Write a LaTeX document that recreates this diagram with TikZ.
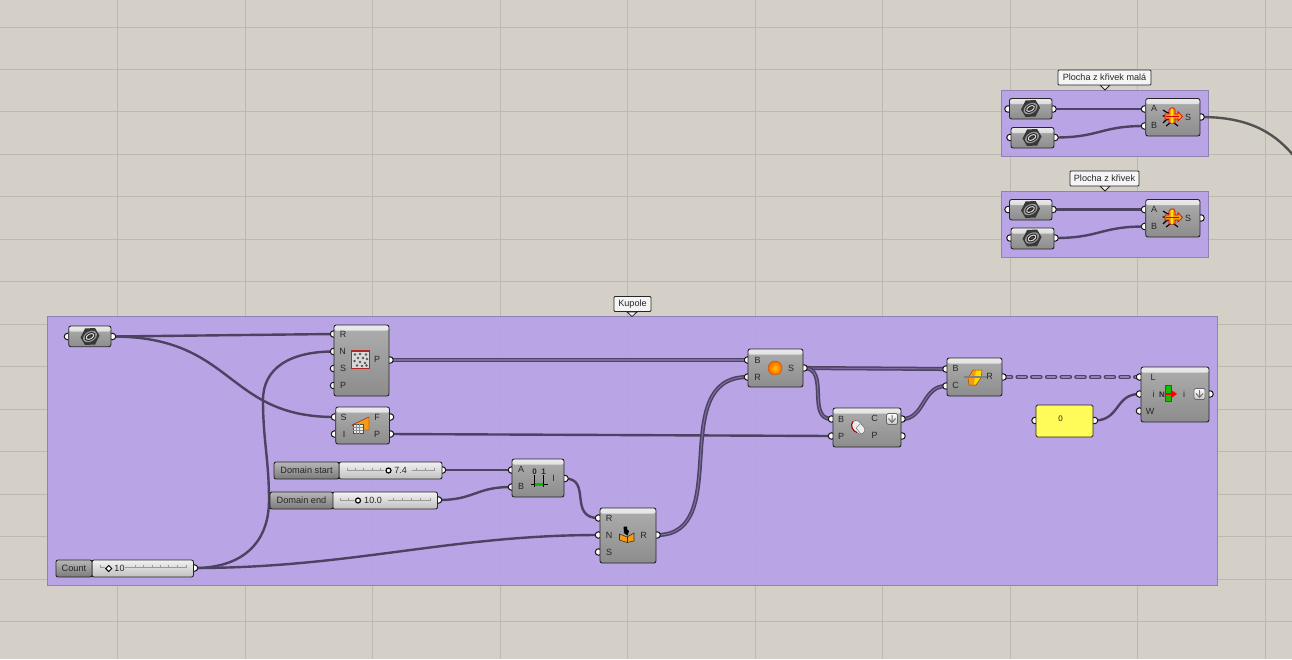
\documentclass[tikz,border=0pt]{standalone}
\usepackage{fontspec}
\setmainfont{Liberation Sans}
\usetikzlibrary{shapes.geometric}
\definecolor{canvas}{HTML}{D4D0C8}
\definecolor{gridc}{HTML}{BDB9B1}
\definecolor{groupc}{HTML}{B7A1E8}
\definecolor{groupe}{HTML}{8F81B5}
\definecolor{wirec}{HTML}{4C4262}
\definecolor{orng}{HTML}{F59A12}
\definecolor{panely}{HTML}{FFFB58}
\pgfdeclarelayer{groups}\pgfdeclarelayer{wires}
\pgfsetlayers{groups,wires,main}
\tikzset{
 x=1pt,y=-1pt,
 groupbox/.style={draw=groupe,line width=.7pt,fill=groupc,fill opacity=.93,inner sep=0,outer sep=0},
 compbox/.style={draw=black!85,line width=.9pt,rounded corners=2.2pt,inner sep=0,outer sep=0,
   top color=black!32,bottom color=black!45,
   path picture={\shade[top color=white!92!black,bottom color=black!32]
    (path picture bounding box.north west) rectangle ([yshift=-5.5pt]path picture bounding box.north east);}},
 sliderlabel/.style={draw=black!85,line width=.9pt,rounded corners=2pt,inner sep=0,outer sep=0,top color=black!28,bottom color=black!52,font=\fontsize{9.2}{10}\selectfont,text=black!85},
 sliderbody/.style={draw=black!85,line width=.9pt,rounded corners=2pt,inner sep=0,outer sep=0,top color=white!95!black,bottom color=black!25},
 port/.style={circle,draw=black!90,fill=white,line width=1pt,inner sep=0,minimum size=6.5pt},
 lbl/.style={inner sep=0,font=\fontsize{9}{10}\selectfont,text=black!85},
 wire/.style={draw=wirec,line width=2.4pt,line cap=round},
 wirebig/.style={draw=wirec,line width=1.5pt,double=groupc!45!wirec,double distance=1.1pt},
 wiredash/.style={draw=wirec,line width=1.5pt,double=groupc!65!wirec,double distance=1.6pt,dash pattern=on 8pt off 6.7pt,line cap=round},
 wireout/.style={draw=black!68,line width=2.4pt},
 tagbox/.style={draw=black!85,fill=white!96!black,line width=.8pt,rounded corners=1pt,inner sep=0,outer sep=0,font=\fontsize{9.1}{10}\selectfont,text=black!85},
 gripc/.style={circle,draw=black,fill=white,line width=1.2pt,inner sep=0,minimum size=5pt},
 gripd/.style={diamond,draw=black,fill=white,line width=.9pt,inner sep=0,minimum size=6.5pt},
 railc/.style={draw=black!40,line width=.5pt},
 buttonc/.style={draw=black!60,line width=.7pt,rounded corners=1.5pt,top color=white,bottom color=black!22,inner sep=0,minimum size=11pt},
 panelbox/.style={draw=black!85,line width=.9pt,rounded corners=1.5pt,fill=panely,inner sep=0,outer sep=0},
}
\newcommand\comp[5]{\pgfmathsetmacro\cw{#4-#2}\pgfmathsetmacro\ch{#5-#3}%
 \node[compbox,minimum width=\cw pt,minimum height=\ch pt] (#1) at ({(#2+#4)/2},{(#3+#5)/2}) {};}
\newcommand\prt[3]{\node[port] (#1) at (#2,#3) {};}
\newcommand\lab[4]{\node[lbl] (#1) at (#2,#3) {#4};}
\newcommand\nut[2]{\begin{scope}[shift={(#1,#2)}]
 \fill[black!78] (-9.5,1) -- (-5,-8) -- (5,-8.5) -- (9.5,-1) -- (5,8) -- (-5,8.5) -- cycle;
 \fill[black!40,rotate=30] (0,0) ellipse (7.5 and 5);
 \fill[black!85,rotate=30] (0,0) ellipse (6 and 3.8);
 \draw[white!85!black,line width=1pt,rotate=30] (0,0) ellipse (4.2 and 2.4);
 \fill[black!70,rotate=30] (0,0) ellipse (1.8 and 1);
 \end{scope}}
\newcommand\bug[2]{\begin{scope}[shift={(#1,#2)}]
 \draw[black,line width=1.1pt] (-9,-7) -- (-6,-5) -- (-3,-4) (-9.5,-1) -- (-3,-1) (-9,6) -- (-6,3) -- (-3,2) (-6,9) -- (-2,6) -- (-1,6) (6,9) -- (2,6) -- (1,6);
 \fill[orng,draw=red!85!black,line width=.6pt] (-7,-3) -- (-3,-3) -- (-3,-7) -- (-1,-9) -- (2,-9) -- (3,-7) -- (3,-3) -- (6,-3) -- (6,-5.5) -- (10.5,-.5) -- (6,4) -- (6,2) -- (3,2) -- (3,6) -- (-3,6) -- (-3,2) -- (-7,2) -- cycle;
 \fill[yellow!85!orange] (-1,-8.5) rectangle (1,5.5);
 \draw[red!85!black,line width=.5pt] (-6.5,-.5) -- (7,-.5);
 \end{scope}}
\begin{document}
\begin{tikzpicture}
\useasboundingbox (0,0) rectangle (1292,659);
\begin{pgfonlayer}{groups}
\fill[canvas] (0,0) rectangle (1292,659);
\foreach \gx in {117.5,245,372.5,500,627.5,755,882.5,1010,1137.5,1265} {\draw[gridc,line width=.8pt] (\gx,0) -- (\gx,659);}
\foreach \gy in {27,69,111.5,154,196.5,239,281.5,324,366.5,409,451.5,494,536.5,579,621.5} {\draw[gridc,line width=.8pt] (0,\gy) -- (1292,\gy);}
\node[groupbox,minimum width=1169.5pt,minimum height=269pt] (gKupole) at (632.25,450.5) {};
\node[groupbox,minimum width=207.2pt,minimum height=66.7pt] (gMala) at (1105.1,123.35) {};
\node[groupbox,minimum width=207.2pt,minimum height=66.5pt] (gKrivek) at (1105.1,224.25) {};
\end{pgfonlayer}

% group tags
\fill[white!96!black,draw=black!85,line width=.8pt] (627,312) -- (632,316.5) -- (637,312) -- cycle;
\node[tagbox,minimum width=37pt,minimum height=15pt] (tKupole) at (632.5,304) {Kupole};
\fill[white!96!black,draw=black!85,line width=.8pt] (1100,85) -- (1105,90) -- (1110,85) -- cycle;
\node[tagbox,minimum width=93pt,minimum height=15pt] (tMala) at (1104.5,77.5) {Plocha z křivek malá};
\fill[white!96!black,draw=black!85,line width=.8pt] (1100,186) -- (1105,191) -- (1110,186) -- cycle;
\node[tagbox,minimum width=69pt,minimum height=15pt] (tKrivek) at (1104.5,178.5) {Plocha z křivek};

% Kupole: curve param
\prt{cA}{67.5}{336.5}\prt{cB}{112.5}{336.5}
\comp{cC}{68.7}{326}{111}{346.7}\nut{90}{336.5}

% populate
\prt{popR}{333.5}{334}\prt{popN}{333.5}{351.5}\prt{popS}{333.5}{368.5}\prt{popP}{333.5}{385.5}\prt{popO}{390}{360}
\comp{pop}{334}{325}{389}{396}
\lab{lpR}{343}{334}{R}\lab{lpN}{342.5}{351.5}{N}\lab{lpS}{343}{368.5}{S}\lab{lpP}{343}{385.5}{P}\lab{lpO}{377}{359.5}{P}
\fill[white!85!black] (351.5,351) rectangle (369.5,368.5);
\draw[red!65!black!85,line width=1.2pt] (351.5,351) rectangle (369.5,368.5);
\foreach \dx/\dy in {355/354.5,360/354,366/354.5,358/358,363/358,367/359,354.5/361,360/362,365/363,357/365.5,362/366,366.5/365.5} {\fill[black!65] (\dx,\dy) circle (1.3);}

% surface
\prt{srS}{334.5}{417}\prt{srI}{334.5}{434}\prt{srF}{390.5}{417}\prt{srP}{390.5}{434}
\comp{sr}{335.7}{407}{389.5}{444}
\lab{lsS}{343.5}{417}{S}\lab{lsI}{344}{434}{I}\lab{lsF}{377}{417}{F}\lab{lsP}{377}{434}{P}
\fill[orng,draw=red!70!black,line width=.4pt] (352,425) -- (369,417) -- (369,430) -- (358,430) -- cycle;
\fill[white!92!black,draw=black!70,line width=.5pt] (353,424) rectangle (363,433.5);
\draw[black!45,line width=.3pt] (353,427) -- (363,427) (353,430) -- (363,430) (356.3,424) -- (356.3,433.5) (359.6,424) -- (359.6,433.5);

% sliders
\prt{dsO}{442.5}{470}
\node[sliderbody,minimum width=103pt,minimum height=17pt] (dsB) at (390.5,470.5) {};
\node[sliderlabel,minimum width=65pt,minimum height=17pt] (dsL) at (306.5,470.5) {Domain start};
\draw[railc] (347,470) -- (384,470) (412,470) -- (434,470);
\foreach \tx in {347,355,363,372,380,416,425,434} {\draw[railc] (\tx,467.5) -- (\tx,470.5);}
\node[gripc] (dsG) at (388.5,470.5) {};
\node[lbl] (dsV) at (400.5,470) {7.4};

\prt{deO}{438.5}{500}
\node[sliderbody,minimum width=105pt,minimum height=17pt] (deB) at (385,500.5) {};
\node[sliderlabel,minimum width=63pt,minimum height=17pt] (deL) at (301.5,500.5) {Domain end};
\draw[railc] (340,500) -- (354,500) (388,500) -- (430,500);
\foreach \tx in {340,348,393,402,411,420,430} {\draw[railc] (\tx,497.5) -- (\tx,500.5);}
\node[gripc] (deG) at (358,500.5) {};
\node[lbl] (deV) at (373,500) {10.0};

\prt{coO}{194.5}{568}
\node[sliderbody,minimum width=101.5pt,minimum height=17pt] (coB) at (142.7,568.5) {};
\node[sliderlabel,minimum width=36pt,minimum height=17pt] (coL) at (74,568.5) {Count};
\draw[railc] (100,567.5) -- (105,567.5) (125,567.5) -- (186,567.5);
\foreach \tx in {100,135,143,152,160,168,177,186} {\draw[railc] (\tx,565) -- (\tx,568);}
\node[gripd] (coG) at (108.7,568.5) {};
\node[lbl] (coV) at (119.5,568) {10};

% construct domain
\prt{cdA}{511.5}{470}\prt{cdB}{511.5}{487}\prt{cdI}{565}{478.5}
\comp{cd}{512}{459}{564}{497}
\lab{lcA}{521}{469.5}{A}\lab{lcB}{521}{486.5}{B}\lab{lcI}{553.5}{478.5}{I}
\node[lbl,font=\fontsize{8}{8}\selectfont\bfseries] (cd0) at (534.5,471.5) {0};
\node[lbl,font=\fontsize{8}{8}\selectfont\bfseries] (cd1) at (543.5,471.5) {1};
\draw[black,line width=.7pt] (531,484.5) -- (548,484.5) (534.5,475) -- (534.5,487) (543.5,475) -- (543.5,487);
\draw[green!75!black,line width=2.2pt] (535,484.5) -- (543,484.5);

% series
\prt{seR}{598.5}{518}\prt{seN}{598.5}{535}\prt{seS}{598.5}{552}\prt{seO}{657}{535}
\comp{se}{600}{508}{656}{563}
\lab{lrR}{609}{518}{R}\lab{lrN}{609}{535}{N}\lab{lrS}{609}{552}{S}\lab{lrO}{643.5}{535}{R}
\fill[orng,draw=black!80,line width=.6pt] (619.5,534) -- (627,537) -- (634,533) -- (634,541) -- (627,542.5) -- (619.5,540) -- cycle;
\draw[black!80,line width=.5pt] (627,537) -- (627,542.5);
\fill[black] (623.5,526.5) -- (627,526.5) -- (627,529) -- (629,531) -- (627.5,535.5) -- (624,533) -- cycle;

% sphere
\prt{spB}{747.5}{360}\prt{spR}{747.5}{377}\prt{spO}{804}{368}
\comp{sp}{748}{349}{803}{387}
\lab{lbB}{757.5}{360}{B}\lab{lbR}{757.5}{377}{R}\lab{lbS}{791}{368}{S}
\shade[inner color=yellow!55!orange,outer color=orange!75!red,draw=orange!70!black,line width=.4pt] (775,368) circle (7);

% split
\prt{stB}{831.5}{419}\prt{stP}{831.5}{436}\prt{stC}{902}{419}\prt{stQ}{902}{436}
\comp{st}{833}{408}{901}{447}
\lab{ltB}{841}{419}{B}\lab{ltP}{841}{436}{P}\lab{ltC}{874.5}{418.5}{C}\lab{ltQ}{874.5}{435.5}{P}
\fill[white!93!black,draw=black!55,line width=.6pt,rounded corners=2pt] (851,423) -- (857,419.5) -- (863,426) -- (866,430) -- (861,435) -- (853,430) -- cycle;
\draw[red!65!black,line width=1pt] (853,421.5) .. controls (850,425) and (852,431) .. (857,432.5);
\draw[black!50,line width=.6pt] (856,428) -- (860,424) (856,428) -- (861,434);
\node[buttonc] (stBtn) at (892,419) {};
\draw[black!55,line width=1pt] (892,415) -- (892,422) (888.5,418.5) -- (892,422.5) -- (895.5,418.5);

% trim
\prt{trB}{946}{369}\prt{trC}{946}{386}\prt{trO}{1003}{377}
\comp{tr}{947}{358}{1002}{396}
\lab{lmB}{955.5}{368.5}{B}\lab{lmC}{955.5}{385.5}{C}\lab{lmO}{989.5}{376.5}{R}
\fill[orng,draw=orange!60!black,line width=.5pt] (968,378) -- (973,370) -- (982,370) -- (981,378) -- (976,385) -- (969,385) -- cycle;
\fill[yellow!80!orange] (976,370.5) -- (981.5,370.5) -- (980.5,377.5) -- (975.5,384.5) -- (974,384) -- (975,377) -- cycle;
\draw[black!50,line width=1.2pt] (964,377) -- (987,377);

% panel
\prt{paI}{1035}{420.5}\prt{paO}{1094.5}{420.5}
\node[panelbox,minimum width=57pt,minimum height=32pt] (pa) at (1064.5,421) {};
\node[lbl,font=\fontsize{8}{9}\selectfont] (paV) at (1060.5,419) {0};

% insert items
\prt{inL}{1139.5}{377}\prt{inI}{1139.5}{394}\prt{inW}{1139.5}{411}\prt{inO}{1210}{394}
\comp{in0}{1141}{367}{1209}{422}
\lab{liL}{1153}{377}{L}\lab{liI}{1153.5}{394}{i}\lab{liW}{1150}{411}{W}\lab{liO}{1184}{394}{i}
\node[lbl,font=\fontsize{8}{9}\selectfont\bfseries] (liN) at (1162,394.5) {N};
\fill[green!70!black!90!yellow,draw=black!50!green,line width=.5pt] (1165.5,385.5) rectangle (1171,401.5);
\draw[red,line width=1.8pt] (1166,394) -- (1173,394);
\fill[red] (1172,390.5) -- (1177,394) -- (1172,397.5) -- cycle;
\node[buttonc] (inBtn) at (1199.5,394) {};
\draw[black!55,line width=1pt] (1199.5,390) -- (1199.5,397) (1196,393.5) -- (1199.5,397.5) -- (1203,393.5);

% Plocha z krivek mala
\prt{m1a}{1008}{109}\prt{m1b}{1053}{109}\comp{m1}{1009.5}{98.5}{1052}{119}\nut{1030.5}{108.5}
\prt{m2a}{1010}{137.5}\prt{m2b}{1055}{137.5}\comp{m2}{1011}{127.5}{1054}{148}\nut{1032}{137.5}
\prt{msA}{1144.5}{109}\prt{msB}{1144.5}{126}\prt{msS}{1201}{117}
\comp{ms}{1145.7}{98.5}{1200}{136}
\lab{lmsA}{1154}{108.5}{A}\lab{lmsB}{1154}{125.5}{B}\lab{lmsS}{1188}{117}{S}
\bug{1172}{117}

% Plocha z krivek
\prt{k1a}{1008}{209.5}\prt{k1b}{1053}{209.5}\comp{k1}{1009.5}{199.5}{1052}{220}\nut{1030.5}{209.5}
\prt{k2a}{1010}{238}\prt{k2b}{1055}{238}\comp{k2}{1011}{228}{1054}{249}\nut{1032}{238}
\prt{ksA}{1144.5}{209.5}\prt{ksB}{1144.5}{226.5}\prt{ksS}{1201}{218}
\comp{ks}{1145.7}{199.5}{1200}{237}
\lab{lksA}{1154}{209.5}{A}\lab{lksB}{1154}{226.5}{B}\lab{lksS}{1188}{218}{S}
\bug{1172}{218}

\coordinate (offR) at (1293,155);

\begin{pgfonlayer}{wires}
\draw[wire] (cB.center) -- (popR.center);
\draw[wire] (cB.center) .. controls (235,336.5) and (225,417) .. (srS.center);
\draw[wire] (coO.center) .. controls (240,568) and (269,545) .. (269,500) .. controls (269,460) and (263,440) .. (263,400) .. controls (263,368) and (290,351.5) .. (popN.center);
\draw[wire] (coO.center) .. controls (350,568) and (450,535) .. (seN.center);
\draw[wire] (dsO.center) -- (cdA.center);
\draw[wire] (deO.center) .. controls (475,500) and (475,487) .. (cdB.center);
\draw[wire] (cdI.center) .. controls (592,478.5) and (568,518) .. (seR.center);
\draw[wire] (srP.center) -- (stP.center);
\draw[wire] (paO.center) .. controls (1120,420.5) and (1115,394) .. (inI.center);
\draw[wirebig] (popO.center) -- (spB.center);
\draw[wirebig] (seO.center) .. controls (735,535) and (665,377) .. (spR.center);
\draw[wirebig] (spO.center) -- (trB.center);
\draw[wirebig] (spO.center) .. controls (830,368) and (806,419) .. (stB.center);
\draw[wirebig] (stC.center) .. controls (925,419) and (922,386) .. (trC.center);
\draw[wiredash] (trO.center) -- (inL.center);
\draw[wire] (m1b.center) -- (msA.center);
\draw[wire] (m2b.center) .. controls (1100,137.5) and (1100,126) .. (msB.center);
\draw[wire] (k1b.center) -- (ksA.center);
\draw[wire] (k2b.center) .. controls (1100,238) and (1100,226.5) .. (ksB.center);
\draw[wireout] (msS.center) .. controls (1245,117) and (1272,130) .. (offR);
\end{pgfonlayer}
\end{tikzpicture}
\end{document}
